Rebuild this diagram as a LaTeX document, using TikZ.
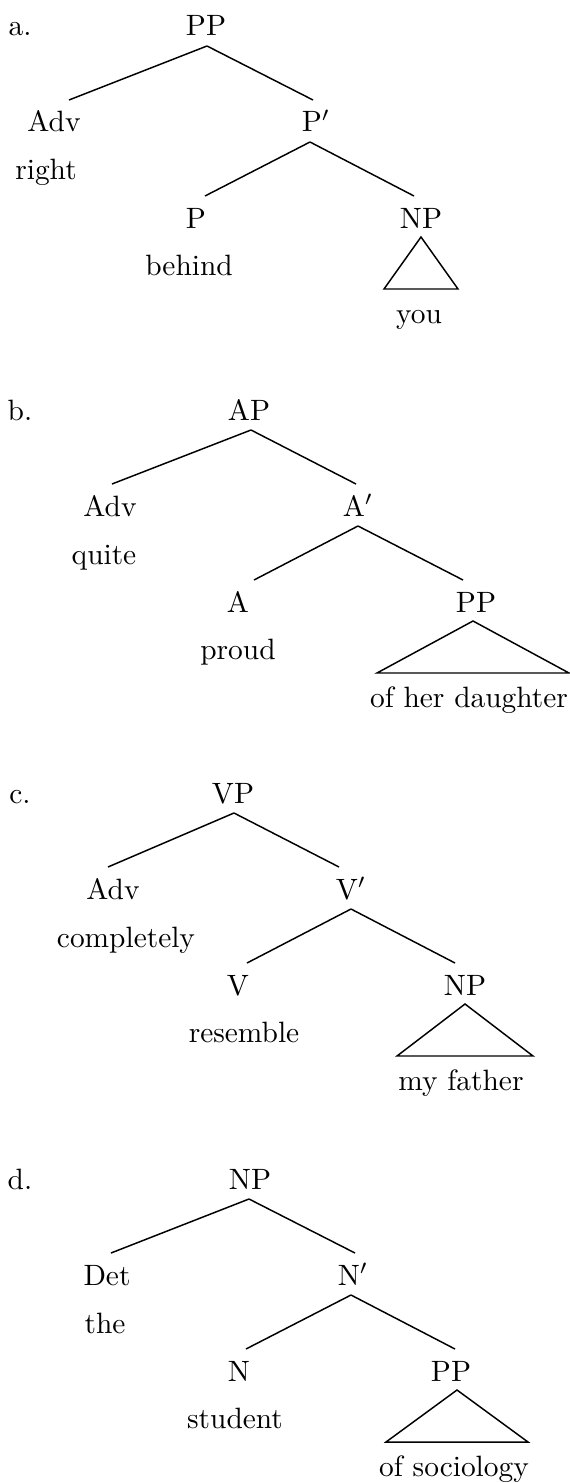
\documentclass[tikz,border=0pt]{standalone}
\usetikzlibrary{calc}

\tikzset{
	lbl/.style={anchor=base,inner sep=0pt}
}
% line from a mother node down to a daughter node
\newcommand{\branch}[4]{
	\draw ($(#1.base) + (#2,10)$) -- ($(#3.base) + (#4,-32)$);
}
% triangle hanging under a phrase node
\newcommand{\roof}[3]{
	\draw ($(#1.base) + (#2,9)$) -- ++(-#3,52) -- ++(2*#3,0) -- cycle;
}

\begin{document}
\begin{tikzpicture}[x=0.34pt,y=-0.34pt,line width=0.5pt]
	\useasboundingbox (0,0) rectangle (570,1483);

	% a. PP
	\coordinate (a) at (0,36);
	\node[lbl] (a-lbl) at ($(a) + (20,0)$) {a.};
	\node[lbl] (a-PP) at ($(a) + (206,0)$) {PP};
	\node[lbl] (a-Adv) at ($(a) + (54,96)$) {Adv};
	\node[lbl] (a-right) at ($(a) + (46,144)$) {right};
	\node[lbl] (a-Pbar) at ($(a) + (316,96)$) {P$'$};
	\node[lbl] (a-P) at ($(a) + (196,192)$) {P};
	\node[lbl] (a-behind) at ($(a) + (189,239)$) {behind};
	\node[lbl] (a-NP) at ($(a) + (421,192)$) {NP};
	\node[lbl] (a-you) at ($(a) + (419,287)$) {you};
	\branch{a-PP}{1}{a-Adv}{15}
	\branch{a-PP}{1}{a-Pbar}{-3}
	\branch{a-Pbar}{-6}{a-P}{9}
	\branch{a-Pbar}{-6}{a-NP}{-7}
	\roof{a-NP}{0}{37}

	% b. AP
	\coordinate (b) at (0,420);
	\node[lbl] (b-lbl) at ($(b) + (20,0)$) {b.};
	\node[lbl] (b-AP) at ($(b) + (249,0)$) {AP};
	\node[lbl] (b-Adv) at ($(b) + (110,96)$) {Adv};
	\node[lbl] (b-quite) at ($(b) + (104,144)$) {quite};
	\node[lbl] (b-Abar) at ($(b) + (358,96)$) {A$'$};
	\node[lbl] (b-A) at ($(b) + (238,192)$) {A};
	\node[lbl] (b-proud) at ($(b) + (238,239)$) {proud};
	\node[lbl] (b-PP) at ($(b) + (476,192)$) {PP};
	\node[lbl] (b-daughter) at ($(b) + (469,287)$) {of her daughter};
	\branch{b-AP}{2}{b-Adv}{2}
	\branch{b-AP}{2}{b-Abar}{-2}
	\branch{b-Abar}{0}{b-A}{16}
	\branch{b-Abar}{0}{b-PP}{-13}
	\roof{b-PP}{-3}{96}

	% c. VP
	\coordinate (c) at (0,803);
	\node[lbl] (c-lbl) at ($(c) + (20,0)$) {c.};
	\node[lbl] (c-VP) at ($(c) + (233,0)$) {VP};
	\node[lbl] (c-Adv) at ($(c) + (113,96)$) {Adv};
	\node[lbl] (c-completely) at ($(c) + (126,144)$) {completely};
	\node[lbl] (c-Vbar) at ($(c) + (351,96)$) {V$'$};
	\node[lbl] (c-V) at ($(c) + (238,192)$) {V};
	\node[lbl] (c-resemble) at ($(c) + (244,239)$) {resemble};
	\node[lbl] (c-NP) at ($(c) + (465,192)$) {NP};
	\node[lbl] (c-father) at ($(c) + (461,287)$) {my father};
	\branch{c-VP}{1}{c-Adv}{-5}
	\branch{c-VP}{1}{c-Vbar}{-12}
	\branch{c-Vbar}{0}{c-V}{9}
	\branch{c-Vbar}{0}{c-NP}{-10}
	\roof{c-NP}{0}{68}

	% d. NP
	\coordinate (d) at (0,1189);
	\node[lbl] (d-lbl) at ($(d) + (20,0)$) {d.};
	\node[lbl] (d-NP) at ($(d) + (250,0)$) {NP};
	\node[lbl] (d-Det) at ($(d) + (107,96)$) {Det};
	\node[lbl] (d-the) at ($(d) + (105,144)$) {the};
	\node[lbl] (d-Nbar) at ($(d) + (353,96)$) {N$'$};
	\node[lbl] (d-N) at ($(d) + (239,192)$) {N};
	\node[lbl] (d-student) at ($(d) + (235,239)$) {student};
	\node[lbl] (d-PP) at ($(d) + (451,192)$) {PP};
	\node[lbl] (d-sociology) at ($(d) + (454,287)$) {of sociology};
	\branch{d-NP}{-1}{d-Det}{4}
	\branch{d-NP}{-1}{d-Nbar}{2}
	\branch{d-Nbar}{-2}{d-N}{7}
	\branch{d-Nbar}{-2}{d-PP}{4}
	\roof{d-PP}{6}{71}
\end{tikzpicture}
\end{document}
